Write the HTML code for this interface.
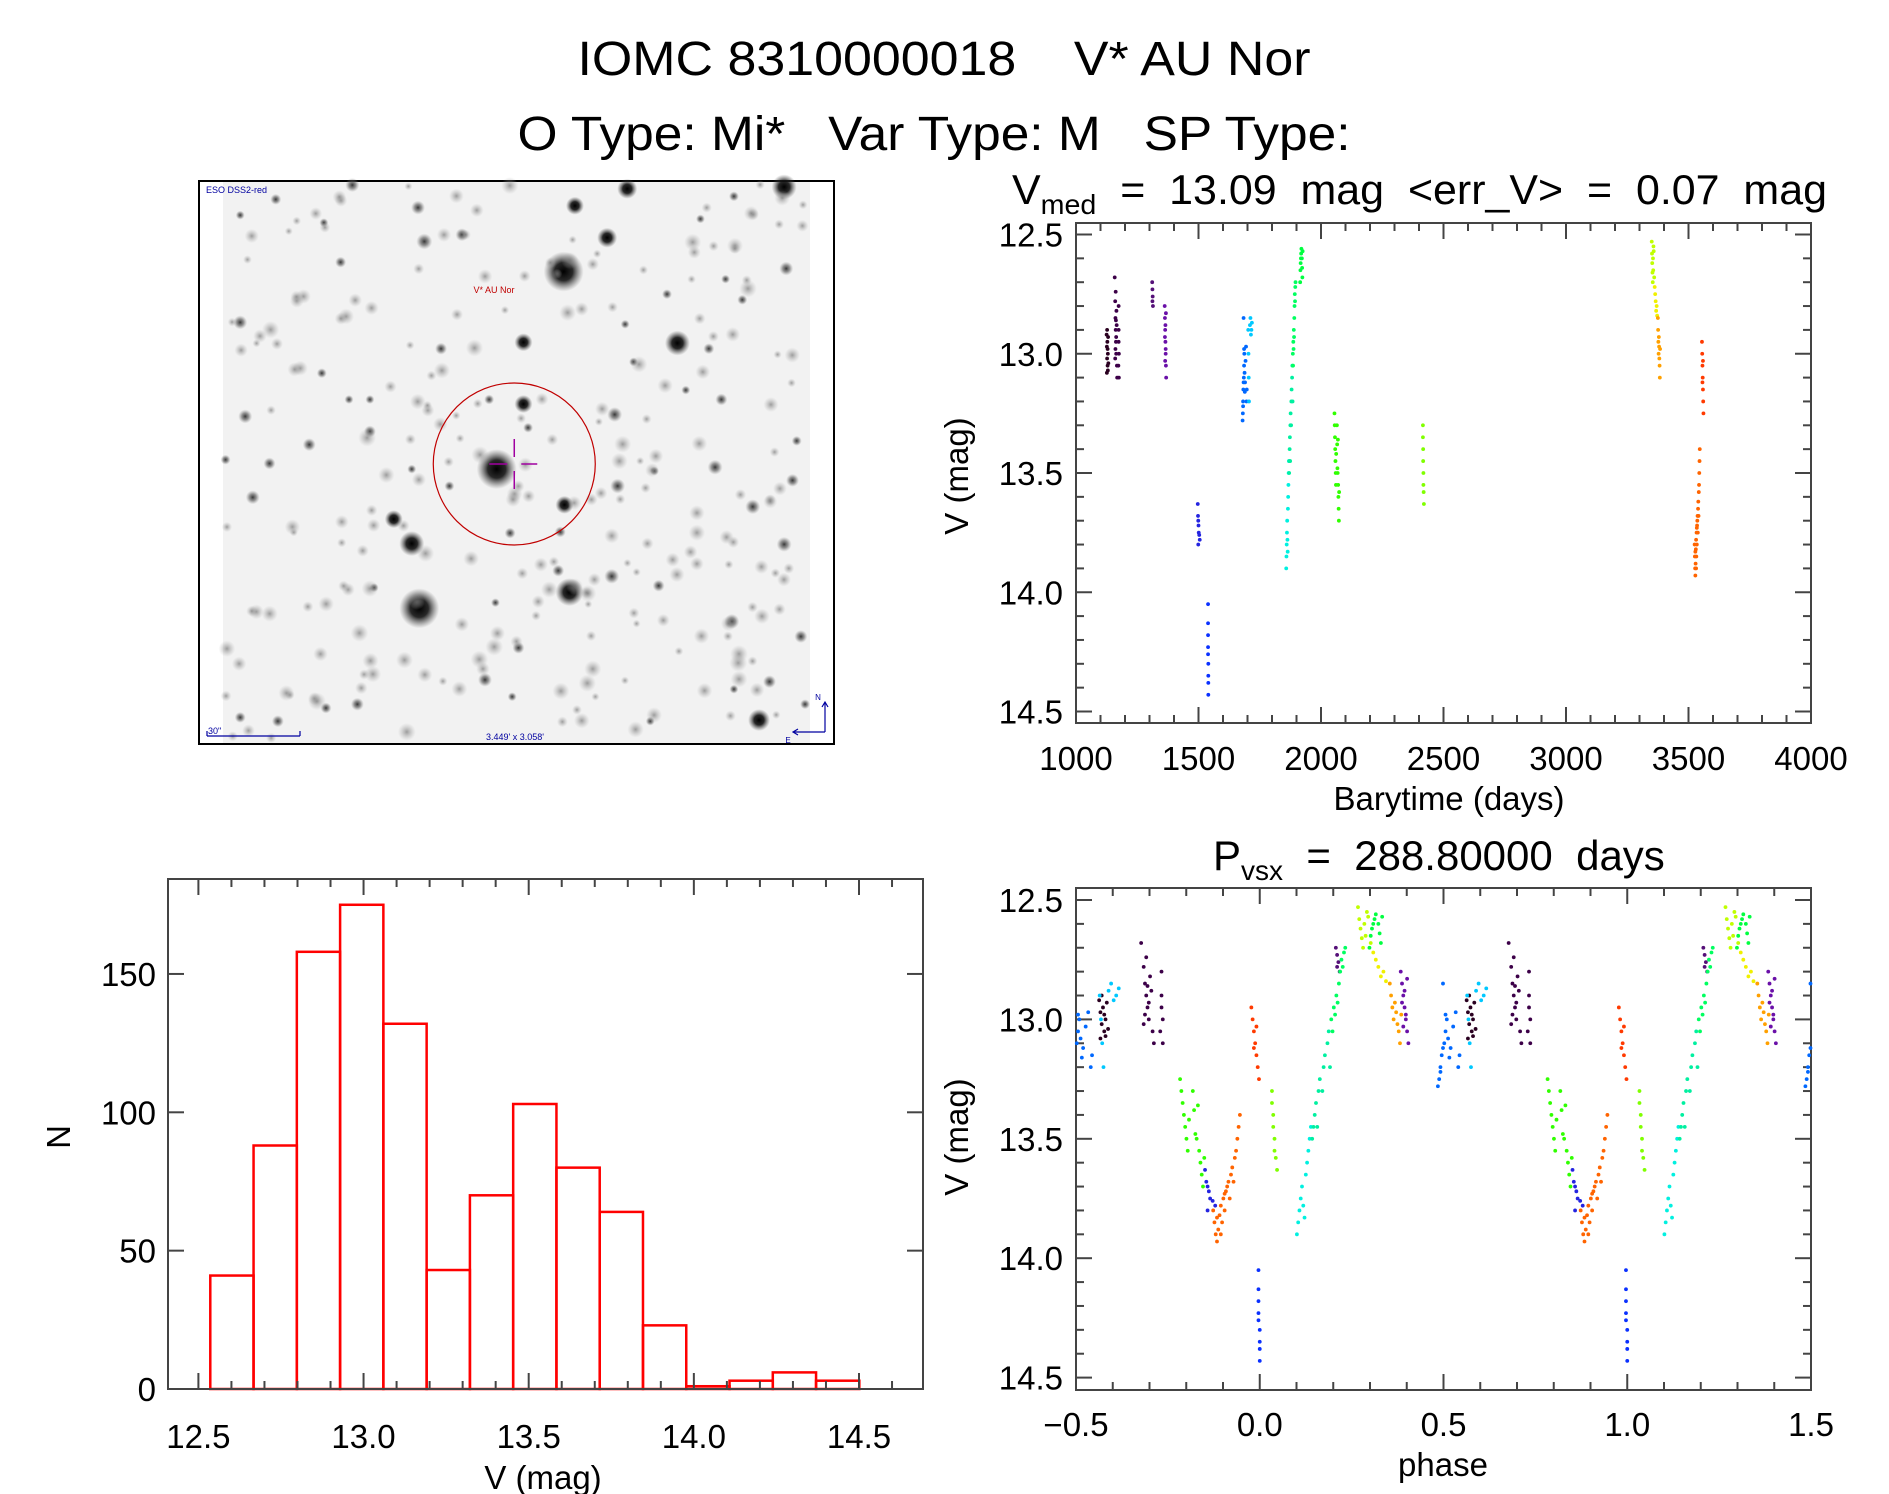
<!DOCTYPE html>
<html><head><meta charset="utf-8"><title>IOMC 8310000018</title>
<style>
html,body{margin:0;padding:0;background:#fff;}
svg{display:block;font-family:"Liberation Sans",sans-serif;}
</style></head>
<body>
<svg id="root" width="1889" height="1494" viewBox="0 0 1889 1494" xmlns="http://www.w3.org/2000/svg">
<defs>
<radialGradient id="star"><stop offset="0" stop-color="#000" stop-opacity="1"/><stop offset="0.45" stop-color="#111" stop-opacity="0.9"/><stop offset="1" stop-color="#555" stop-opacity="0"/></radialGradient>
<radialGradient id="soft"><stop offset="0" stop-color="#222" stop-opacity="0.9"/><stop offset="0.5" stop-color="#555" stop-opacity="0.6"/><stop offset="1" stop-color="#888" stop-opacity="0"/></radialGradient>
<radialGradient id="faint"><stop offset="0" stop-color="#777" stop-opacity="0.7"/><stop offset="1" stop-color="#aaa" stop-opacity="0"/></radialGradient>
</defs>
<text x="944" y="75" text-anchor="middle" font-size="48" textLength="733" lengthAdjust="spacingAndGlyphs" fill="#000" xml:space="preserve">IOMC 8310000018    V* AU Nor</text>
<text x="934" y="150" text-anchor="middle" font-size="48" textLength="833" lengthAdjust="spacingAndGlyphs" fill="#000" xml:space="preserve">O Type: Mi*   Var Type: M   SP Type:</text>

<g id="finder"></g>
<g id="lc"></g>
<g id="ph"></g>
<g id="hist"></g>
</svg>
<script>
// ---------- data ----------
const obsTime = [
1125,1126,1127,1128,1129,1130,1131,1126,1129,1132,1127,1130,
1158,1160,1161,1162,1163,1164,1165,1166,1160,1162,1167,1168,1164,1163,1161,1174,1174,1175,1173,1175,1174,
1362,1363,1364,1365,1366,1367,1368,1363,1365,1366,1364,1367,
1311,1312,1313,1314,1312,
1497,1498,1499,1500,1501,1503,1505,1499,
1539,1539,1539,1539,1539,1540,1540,1540,1540,
1680,1681,1682,1683,1684,1685,1686,1687,1688,1689,1690,1692,1694,1696,1697,1684,1682,1686,
1710,1712,1714,1716,1718,1703,1704,1705,1706,
1858,1859,1860,1861,1862,1863,1864,1865,1866,1867,1868,1869,
1870,1871,1872,1873,1874,1875,1876,1878,1879,1880,1882,1883,1884,
1885,1886,1887,1888,1889,1890,1891,1892,1893,1894,1895,1896,
1915,1916,1917,1918,1919,1920,1922,1923,1924,1925,
2055,2056,2057,2058,2059,2060,2061,2062,2065,2066,2067,2068,2069,2070,2071,2072,2073,2074,
2416,2416,2417,2417,2418,2418,2419,2420,
3350,3351,3352,3353,3354,3355,3356,3357,3358,3360,
3362,3364,3366,3368,3370,3372,
3375,3376,3377,3378,3379,3380,3381,3382,3383,3384,
3525,3526,3527,3528,3529,3530,3531,3532,3533,3534,3535,3536,3537,3538,3539,3540,3541,3542,3543,3544,3545,3546,3528,3531,3534,
3555,3556,3557,3558,3559,3560,3561,3557,3559
];
const obsMag = [
12.92,12.97,13.02,12.95,13.05,13.0,12.93,13.08,12.98,13.04,12.90,13.07,
12.68,12.78,12.85,12.9,12.95,13.0,12.82,12.88,13.02,12.74,13.05,13.1,12.93,12.86,12.98,12.8,12.9,13.0,13.05,13.1,12.95,
12.8,12.85,12.9,12.95,13.0,13.05,13.1,12.93,12.88,12.98,13.03,12.83,
12.7,12.73,12.76,12.8,12.78,
13.63,13.68,13.7,13.72,13.75,13.76,13.78,13.8,
14.05,14.13,14.18,14.23,14.26,14.3,14.35,14.38,14.43,
13.28,13.25,13.2,13.15,13.12,13.1,13.05,13.0,13.08,13.16,13.12,13.03,12.97,13.2,13.15,12.85,13.22,12.98,
12.88,12.85,12.92,12.9,12.87,12.9,13.0,13.1,13.2,
13.9,13.85,13.8,13.75,13.7,13.78,13.83,13.65,13.6,13.55,13.5,13.45,
13.5,13.45,13.4,13.35,13.45,13.3,13.25,13.3,13.2,13.15,13.1,13.05,13.2,
13.0,13.05,12.95,12.98,12.9,12.93,12.85,12.8,12.75,12.78,12.72,12.7,
12.7,12.65,12.62,12.6,12.58,12.56,12.6,12.64,12.68,12.57,
13.25,13.3,13.35,13.4,13.45,13.5,13.55,13.42,13.3,13.38,13.48,13.5,13.36,13.55,13.6,13.65,13.7,13.58,
13.3,13.35,13.4,13.45,13.5,13.55,13.58,13.63,
12.53,12.58,12.62,12.66,12.7,12.6,12.65,12.55,12.57,12.68,
12.72,12.75,12.78,12.82,12.8,12.84,
12.85,12.9,12.95,13.0,12.93,12.97,13.02,13.05,13.1,12.98,
13.8,13.85,13.9,13.93,13.88,13.82,13.78,13.85,13.75,13.8,13.72,13.7,13.68,13.75,13.65,13.62,13.68,13.58,13.55,13.5,13.45,13.4,13.83,13.9,13.73,
12.95,13.0,13.05,13.1,13.15,13.2,13.25,13.12,13.03
];
const groupSizes = [12,21,12,5,8,9,18,9,12,13,12,10,18,8,10,6,10,25,9];
const period = 288.8;
const epoch = 1540;
const histEdgeStart = 12.536;
const histBinWidth = 0.131;
const histCounts = [41,88,158,175,132,43,70,103,80,64,23,1,3,6,3];
const lcXTicks = [1000,1500,2000,2500,3000,3500,4000];
const magTicks = [12.5,13.0,13.5,14.0,14.5];
const phaseTicks = [-0.5,0.0,0.5,1.0,1.5];
const phaseTickLabels = ["\u22120.5","0.0","0.5","1.0","1.5"];
const histXTicks = [12.5,13.0,13.5,14.0,14.5];
const histYTicks = [0,50,100,150];

// ---------- style ----------
const palette = ["#2a0020","#3c0048","#6a10a8","#551078","#2424e0","#0a30ff","#0068ff","#00c8ff","#00f0e0","#00f0a0","#00ff60","#00ff40","#30ff00","#80ff00","#c0ff00","#f0f000","#ffa000","#ff6400","#ff3a00"];
const NS = "http://www.w3.org/2000/svg";
function mk(tag, attrs, parent){const e=document.createElementNS(NS,tag);for(const k in attrs)e.setAttribute(k,attrs[k]);if(parent)parent.appendChild(e);return e;}
const obsGroup=[];groupSizes.forEach((n,g)=>{for(let i=0;i<n;i++)obsGroup.push(g);});
const AX="#444";

function axisFrame(parent,L,T,R,B){
  const r=mk('rect',{x:L,y:T,width:R-L,height:B-T,fill:'none',stroke:AX,'stroke-width':2},parent);
  
  
}
function tickX(parent,sx,vals,minorStep,lo,hi,T,B,major){
  for(let v=lo;v<=hi+1e-9;v+=minorStep){
    const isMaj=vals.some(m=>Math.abs(m-v)<1e-6);const len=isMaj?major:major/2;const x=sx(v);
    mk('line',{x1:x,x2:x,y1:B,y2:B-len,stroke:AX,'stroke-width':2},parent);
    mk('line',{x1:x,x2:x,y1:T,y2:T+len,stroke:AX,'stroke-width':2},parent);
  }
}
function tickY(parent,sy,vals,minorStep,lo,hi,L,R,major){
  for(let v=lo;v<=hi+1e-9;v+=minorStep){
    const isMaj=vals.some(m=>Math.abs(m-v)<1e-6);const len=isMaj?major:major/2;const y=sy(v);
    mk('line',{x1:L,x2:L+len,y1:y,y2:y,stroke:AX,'stroke-width':2},parent);
    mk('line',{x1:R,x2:R-len,y1:y,y2:y,stroke:AX,'stroke-width':2},parent);
  }
}
function label(parent,x,y,txt,size,anchor,name,rot,tl){
  const a={x:x,y:y,'font-size':size,'text-anchor':anchor||'middle',fill:'#000'};
  if(rot)a.transform='rotate(-90 '+x+' '+y+')';
  if(tl){a.textLength=tl;a.lengthAdjust='spacingAndGlyphs';}
  const t=mk('text',a,parent);t.textContent=txt;
  
  
  return t;
}

// ---------- light curve ----------
(function(){
  const g=document.getElementById('lc');
  const L=1076,R=1811,T=223,B=723;
  const sx=v=>L+(v-1000)/3000*(R-L);
  const sy=v=>234.5+(v-12.5)*238.5;
  axisFrame(g,L,T,R,B);
  tickX(g,sx,lcXTicks,100,1000,4000,T,B,16);
  tickY(g,sy,magTicks,0.1,12.5,14.5,L,R,16);
  lcXTicks.forEach(v=>label(g,sx(v),770,String(v),33,'middle','x-tick-label'));
  magTicks.forEach(v=>label(g,1063,sy(v)+12,v.toFixed(1),33,'end','y-tick-label'));
  const t=label(g,1012,204,'V',42,'start','lc-title');
  t.setAttribute('textLength','815');
  t.setAttribute('lengthAdjust','spacingAndGlyphs');
  t.innerHTML='V<tspan font-size="28" dy="10">med</tspan><tspan dy="-10" xml:space="preserve">  =  13.09  mag  &lt;err_V&gt;  =  0.07  mag</tspan>';
  label(g,1449,810,'Barytime (days)',33,'middle','x-axis-title');
  label(g,968,476,'V (mag)',33,'middle','y-axis-title',true);
  obsTime.forEach((tm,i)=>{
    const c=mk('circle',{cx:sx(tm),cy:sy(obsMag[i]),r:1.9,fill:palette[obsGroup[i]]},g);
    
    
  });
})();

// ---------- phase plot ----------
(function(){
  const g=document.getElementById('ph');
  const L=1076,R=1811,T=888,B=1390;
  const sx=v=>L+(v+0.5)/2*(R-L);
  const sy=v=>900+(v-12.5)*238.8;
  axisFrame(g,L,T,R,B);
  tickX(g,sx,phaseTicks,0.1,-0.5,1.5,T,B,16);
  tickY(g,sy,magTicks,0.1,12.5,14.5,L,R,16);
  phaseTicks.forEach((v,i)=>label(g,sx(v),1436,phaseTickLabels[i],33,'middle','x-tick-label'));
  magTicks.forEach(v=>label(g,1063,sy(v)+12,v.toFixed(1),33,'end','y-tick-label'));
  const t=label(g,1213,870,'P',42,'start','phase-title');
  t.innerHTML='P<tspan font-size="28" dy="10">vsx</tspan><tspan dy="-10" xml:space="preserve">  =  288.80000  days</tspan>';
  label(g,1443,1476,'phase',33,'middle','x-axis-title');
  label(g,968,1137,'V (mag)',33,'middle','y-axis-title',true);
  obsTime.forEach((tm,i)=>{
    let p=((tm-epoch)/period)%1; if(p<0)p+=1;
    [p-1,p,p+1].forEach(ph=>{
      if(ph<-0.5||ph>1.5)return;
      const c=mk('circle',{cx:sx(ph),cy:sy(obsMag[i]),r:1.9,fill:palette[obsGroup[i]]},g);
      
      
    });
  });
})();

// ---------- histogram ----------
(function(){
  const g=document.getElementById('hist');
  const L=168,R=923,T=879,B=1389;
  const sx=v=>198.4+(v-12.5)*330.3;
  const sy=v=>B-v*2.767;
  histCounts.forEach((n,i)=>{
    const x0=sx(histEdgeStart+i*histBinWidth),x1=sx(histEdgeStart+(i+1)*histBinWidth);
    const r=mk('rect',{x:x0,y:sy(n),width:x1-x0,height:B-sy(n),fill:'none',stroke:'#f00','stroke-width':2.5},g);
    
    
  });
  axisFrame(g,L,T,R,B);
  tickX(g,sx,histXTicks,0.1,12.5,14.6,T,B,16);
  histYTicks.forEach(v=>{
    const y=sy(v);
    mk('line',{x1:L,x2:L+16,y1:y,y2:y,stroke:AX,'stroke-width':2},g);
    mk('line',{x1:R,x2:R-16,y1:y,y2:y,stroke:AX,'stroke-width':2},g);
    label(g,156,y+12,String(v),33,'end','y-tick-label');
  });
  histXTicks.forEach(v=>label(g,sx(v),1448,v.toFixed(1),33,'middle','x-tick-label'));
  label(g,543,1489,'V (mag)',33,'middle','x-axis-title');
  label(g,70,1137,'N',33,'middle','y-axis-title',true);
})();

// ---------- finder chart ----------
(function(){
  const g=document.getElementById('finder');
  const f=mk('rect',{x:199,y:181,width:635,height:563,fill:'#fff',stroke:'#000','stroke-width':2},g);
  
  
  const bg=mk('rect',{x:223,y:182,width:587,height:561,fill:'#f2f2f2'},g);
  
  
  const sxI=z=>190+z/2.39, syI=z=>170+z/2.658;
  const stars=[[893,270,40],[548,1165,40],[733,795,40],[907,1122,28],[530,993,25],[1165,460,25],[1420,45,25],[1045,50,20],[997,180,20],[920,95,18],[797,458,18],[797,622,18],[1360,1462,22],[487,928,18],[895,890,18],[1015,650,15],[1255,790,15],[1022,840,15],[1345,895,15],[1420,995,15],[1440,825,13],[1425,262,14],[1008,1080,15],[1295,1200,15],[1460,1240,13],[1385,1360,13],[560,190,16],[650,172,13],[545,100,14],[388,40,14],[132,655,14],[150,870,14],[190,780,12],[285,730,13],[430,695,12],[120,405,14],[205,78,11],[360,245,11],[400,1420,13],[325,1430,11],[210,1465,12],[120,1455,11],[705,1355,14],[785,1270,12],[880,1065,12],[1120,1105,12],[1270,610,12],[600,475,12],[885,962,11],[765,965,11],[715,610,10],[808,685,10],[1300,70,10],[1320,345,10],[1140,330,10],[1240,475,11],[1060,510,9],[1280,290,9],[620,840,10],[530,795,9],[430,610,9],[380,610,9],[1185,585,9],[1040,410,9],[1450,720,10],[1110,800,9],[85,770,10],[1470,1420,10],[1100,1465,9],[1300,1380,9],[770,1400,9],[440,1110,9],[730,1150,9],[315,540,10],[320,140,9],[120,120,9],[1220,130,9]];
  stars.forEach(s=>{
    const c=mk('circle',{cx:sxI(s[0]),cy:syI(s[1]),r:s[2]/2.0,fill:s[2]>=18?'url(#star)':'url(#soft)'},g);
    
    
  });
  let seed=7;const rnd=()=>{seed=(seed*16807)%2147483647;return seed/2147483647;};
  for(let i=0;i<220;i++){
    const c=mk('circle',{cx:226+rnd()*580,cy:184+rnd()*556,r:4+rnd()*5,fill:'url(#faint)'},g);
    
    
  }
  const ann=[['ESO DSS2-red',206,193,'start','#0000a0',9,'survey-label'],['V* AU Nor',494,293,'middle','#c00000',9,'target-label'],['30"',208,734,'start','#0000a0',9,'scale-label'],["3.449' x 3.058'",515,740,'middle','#0000a0',9,'fov-label'],['N',818,700,'middle','#0000a0',8,'north-label'],['E',788,743,'middle','#0000a0',8,'east-label']];
  ann.forEach(a=>{const t=label(g,a[1],a[2],a[0],a[5],a[3],a[6]);t.setAttribute('fill',a[4]);});
  const cx=sxI(775), cy=464;
  const circ=mk('circle',{cx:cx,cy:cy,r:81,fill:'none',stroke:'#c00000','stroke-width':1.2},g);
  
  
  const cr=mk('path',{d:`M${cx} ${cy-25}V${cy-7}M${cx} ${cy+7}V${cy+25}M${cx-25} ${cy}H${cx-7}M${cx+7} ${cy}H${cx+23}`,stroke:'#a000a0','stroke-width':1.5,fill:'none'},g);
  
  
  const sb=mk('path',{d:'M207 736H300M207 736V731M300 736V731',stroke:'#0000a0','stroke-width':1.2,fill:'none'},g);
  
  
  const ar=mk('path',{d:'M825 732V703M822 707L825 702L828 707M825 732H794M798 729L793 732L798 735',stroke:'#0000a0','stroke-width':1.2,fill:'none'},g);
  
  
})();
</script>
</body></html>
